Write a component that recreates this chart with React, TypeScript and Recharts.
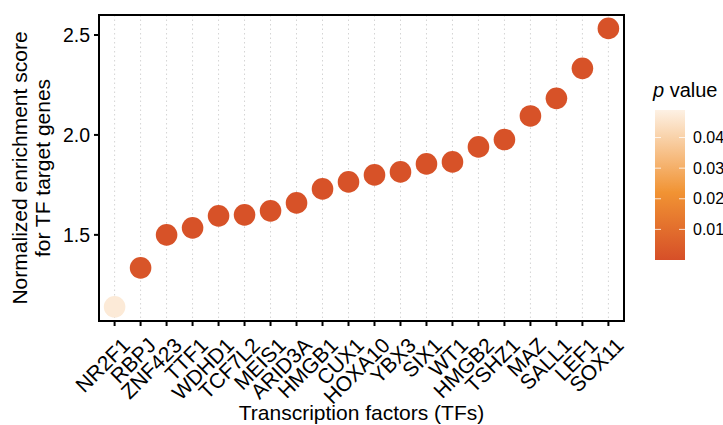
import { CartesianGrid, ReferenceArea, Scatter, ScatterChart, XAxis, YAxis } from "recharts"

const factors = [
  "NR2F1", "RBPJ", "ZNF423", "TTF1", "WDHD1", "TCF7L2", "MEIS1", "ARID3A", "HMGB1", "CUX1",
  "HOXA10", "YBX3", "SIX1", "WT1", "HMGB2", "TSHZ1", "MAZ", "SALL1", "LEF1", "SOX11",
]
const scores = [
  1.14, 1.335, 1.5, 1.535, 1.595, 1.6, 1.62, 1.66, 1.73, 1.765,
  1.8, 1.815, 1.855, 1.865, 1.94, 1.977, 2.095, 2.183, 2.333, 2.533,
]
const pValues = [
  0.047, 0.002, 0.001, 0.001, 0.001, 0.001, 0.001, 0.001, 0.001, 0.001,
  0.001, 0.001, 0.001, 0.001, 0.001, 0.001, 0.001, 0.001, 0.001, 0.001,
]
const yTicks = [1.5, 2.0, 2.5]
const legendTicks = [0.01, 0.02, 0.03, 0.04]

const data = factors.map((name, i) => ({ x: i + 1, name, score: scores[i], p: pValues[i] }))

const P_MAX = 0.049
const FONT = "'Liberation Sans', Arial, sans-serif"

// low -> high p value
const stops: [number, number[]][] = [
  [0, [214, 79, 40]],
  [0.45, [241, 147, 51]],
  [1, [253, 241, 228]],
]

function colorFor(p: number) {
  const t = Math.max(0, Math.min(1, p / P_MAX))
  for (let i = 1; i < stops.length; i++) {
    const [t0, c0] = stops[i - 1]
    const [t1, c1] = stops[i]
    if (t <= t1) {
      const f = (t - t0) / (t1 - t0)
      const c = c0.map((v, k) => Math.round(v + (c1[k] - v) * f))
      return `rgb(${c[0]},${c[1]},${c[2]})`
    }
  }
  return "rgb(253,241,228)"
}

const FactorTick = ({ x, y, payload }: any) => (
  <g transform={`translate(${x + 6},${y + 8})`}>
    <text textAnchor="end" transform="rotate(-45)" dy="0.72em" fontSize={21} fontFamily={FONT} fill="#000">
      {factors[payload.value - 1]}
    </text>
  </g>
)

const Dot = (props: any) => <circle cx={props.cx} cy={props.cy} r={10.8} fill={colorFor(props.payload.p)} />

const YTitle = ({ viewBox }: any) => {
  const cy = viewBox.y + viewBox.height / 2
  return (
    <text transform={`translate(0,${cy}) rotate(-90)`} textAnchor="middle" fontSize={21} fontFamily={FONT} fill="#000">
      <tspan x={0} y={27}>Normalized enrichment score</tspan>
      <tspan x={0} y={50}>for TF target genes</tspan>
    </text>
  )
}

const XTitle = ({ viewBox }: any) => (
  <text x={viewBox.x + viewBox.width / 2} y={420} textAnchor="middle" fontSize={21} fontFamily={FONT} fill="#000">
    Transcription factors (TFs)
  </text>
)

function PLegend() {
  const top = 110
  const bottom = 260
  const toY = (p: number) => bottom - (p / P_MAX) * (bottom - top)
  return (
    <svg width={90} height={300} style={{ position: "absolute", left: 640, top: 0 }}>
      <defs>
        <linearGradient id="pgrad" x1="0" y1="1" x2="0" y2="0">
          {stops.map(([t, c]) => (
            <stop key={t} offset={t} stopColor={`rgb(${c[0]},${c[1]},${c[2]})`} />
          ))}
        </linearGradient>
      </defs>
      <text x={13} y={97} fontSize={20} fontFamily={FONT} fill="#000">
        <tspan fontStyle="italic">p</tspan> value
      </text>
      <rect x={15} y={top} width={30} height={bottom - top} fill="url(#pgrad)" />
      {legendTicks.map((t) => (
        <g key={t}>
          <line x1={15} x2={21} y1={toY(t)} y2={toY(t)} stroke="#fff" strokeOpacity={0.8} strokeWidth={1} />
          <line x1={39} x2={45} y1={toY(t)} y2={toY(t)} stroke="#fff" strokeOpacity={0.8} strokeWidth={1} />
          <text x={53} y={toY(t) + 5.5} fontSize={16} fontFamily={FONT} fill="#000">
            {t.toFixed(2)}
          </text>
        </g>
      ))}
    </svg>
  )
}

export default function App() {
  return (
    <div style={{ position: "absolute", left: 0, top: 0, width: 723, height: 425, background: "#fff", overflow: "hidden" }}>
      <ScatterChart width={723} height={425} margin={{ top: 15, right: 99, bottom: 0, left: 0 }}>
        <CartesianGrid horizontal={false} stroke="#d4d4d4" strokeDasharray="1.5 3" />
        <XAxis
          type="number"
          dataKey="x"
          domain={[0.4, 20.6]}
          ticks={data.map((d) => d.x)}
          interval={0}
          allowDataOverflow
          height={104}
          tick={<FactorTick />}
          tickSize={5}
          stroke="#000"
          strokeWidth={2}
          tickLine={{ stroke: "#000", strokeWidth: 2 }}
          label={<XTitle />}
        />
        <YAxis
          type="number"
          dataKey="score"
          domain={[1.069, 2.6]}
          ticks={yTicks}
          allowDataOverflow
          width={99}
          tickSize={5}
          tickMargin={4}
          tickFormatter={(v: number) => v.toFixed(1)}
          tick={{ fontSize: 19.5, fontFamily: FONT, fill: "#000" }}
          stroke="#000"
          strokeWidth={2}
          tickLine={{ stroke: "#000", strokeWidth: 2 }}
          label={<YTitle />}
        />
        <ReferenceArea x1={0.4} x2={20.6} y1={1.069} y2={2.6} fill="none" stroke="#000" strokeWidth={2} />
        <Scatter data={data} shape={<Dot />} isAnimationActive={false} />
      </ScatterChart>
      <PLegend />
    </div>
  )
}
